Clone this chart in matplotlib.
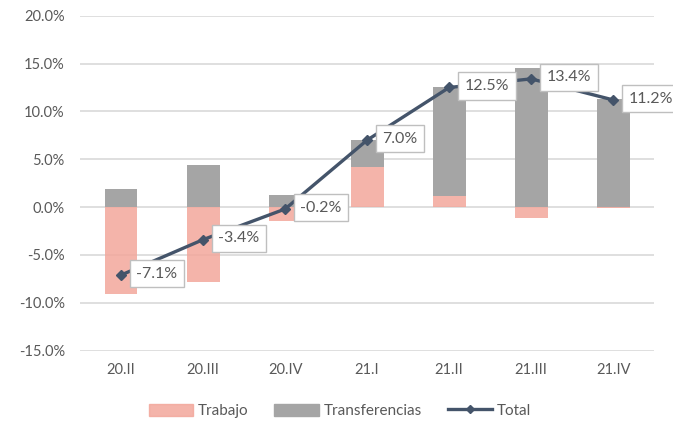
import matplotlib.pyplot as plt
from matplotlib.lines import Line2D
from matplotlib.patches import Patch
import numpy as np

quarters = ["20.II", "20.III", "20.IV", "21.I", "21.II", "21.III", "21.IV"]
trabajo = [-9.1, -7.8, -1.5, 4.2, 1.2, -1.1, -0.1]
transferencias = [1.9, 4.4, 1.3, 2.8, 11.4, 14.5, 11.3]
total = [-7.1, -3.4, -0.2, 7.0, 12.5, 13.4, 11.2]

PINK = "#F3A79B"
GRAY = "#A5A5A5"
LINE = "#44546A"
TXT = "#595959"

plt.rcParams['font.family'] = ['Lato', 'DejaVu Sans']

fig = plt.figure(figsize=(6.73, 4.25), dpi=100)
ax = fig.add_axes([0.119, 0.175, 0.853, 0.788])

x = np.arange(len(quarters))
tr = np.array(trabajo)
tf = np.array(transferencias)
ax.bar(x, tr, width=0.4, color=PINK, alpha=0.85, zorder=2)
ax.bar(x, tf, width=0.4, bottom=np.maximum(tr, 0), color=GRAY, zorder=2)
ax.plot(x, total, color=LINE, lw=2.4, marker="D", ms=5, zorder=4)

for xi, v in zip(x, total):
    ax.annotate(f"{v:.1f}%", (xi, v), xytext=(11, 1), textcoords="offset points",
                ha="left", va="center", fontsize=11.5, color=TXT, zorder=5,
                bbox=dict(boxstyle="square,pad=0.42", fc="white", ec="#BFBFBF", lw=1))

ax.set_ylim(-15, 20)
ax.set_xlim(-0.5, len(quarters) - 0.5)
ax.set_yticks(np.arange(-15, 21, 5))
ax.set_yticklabels([f"{t:.1f}%" for t in np.arange(-15, 21, 5)])
ax.set_xticks(x)
ax.set_xticklabels(quarters)
ax.tick_params(length=0, labelsize=10.5, colors=TXT, pad=9)
ax.tick_params(axis="y", pad=11)
ax.yaxis.grid(True, color="#D9D9D9", lw=1.2, zorder=0)
ax.set_axisbelow(True)
for s in ax.spines.values():
    s.set_visible(False)

handles = [Patch(color=PINK, alpha=0.85, label="Trabajo"),
           Patch(color=GRAY, label="Transferencias"),
           Line2D([], [], color=LINE, lw=2.4, marker="D", ms=4.5, label="Total")]
fig.legend(handles=handles, loc="center", bbox_to_anchor=(0.505, 0.033), ncol=3,
           frameon=False, fontsize=11, labelcolor=TXT, handlelength=2.9,
           handleheight=0.9, handletextpad=0.3, columnspacing=1.7)

fig.savefig("out.png", dpi=100)
